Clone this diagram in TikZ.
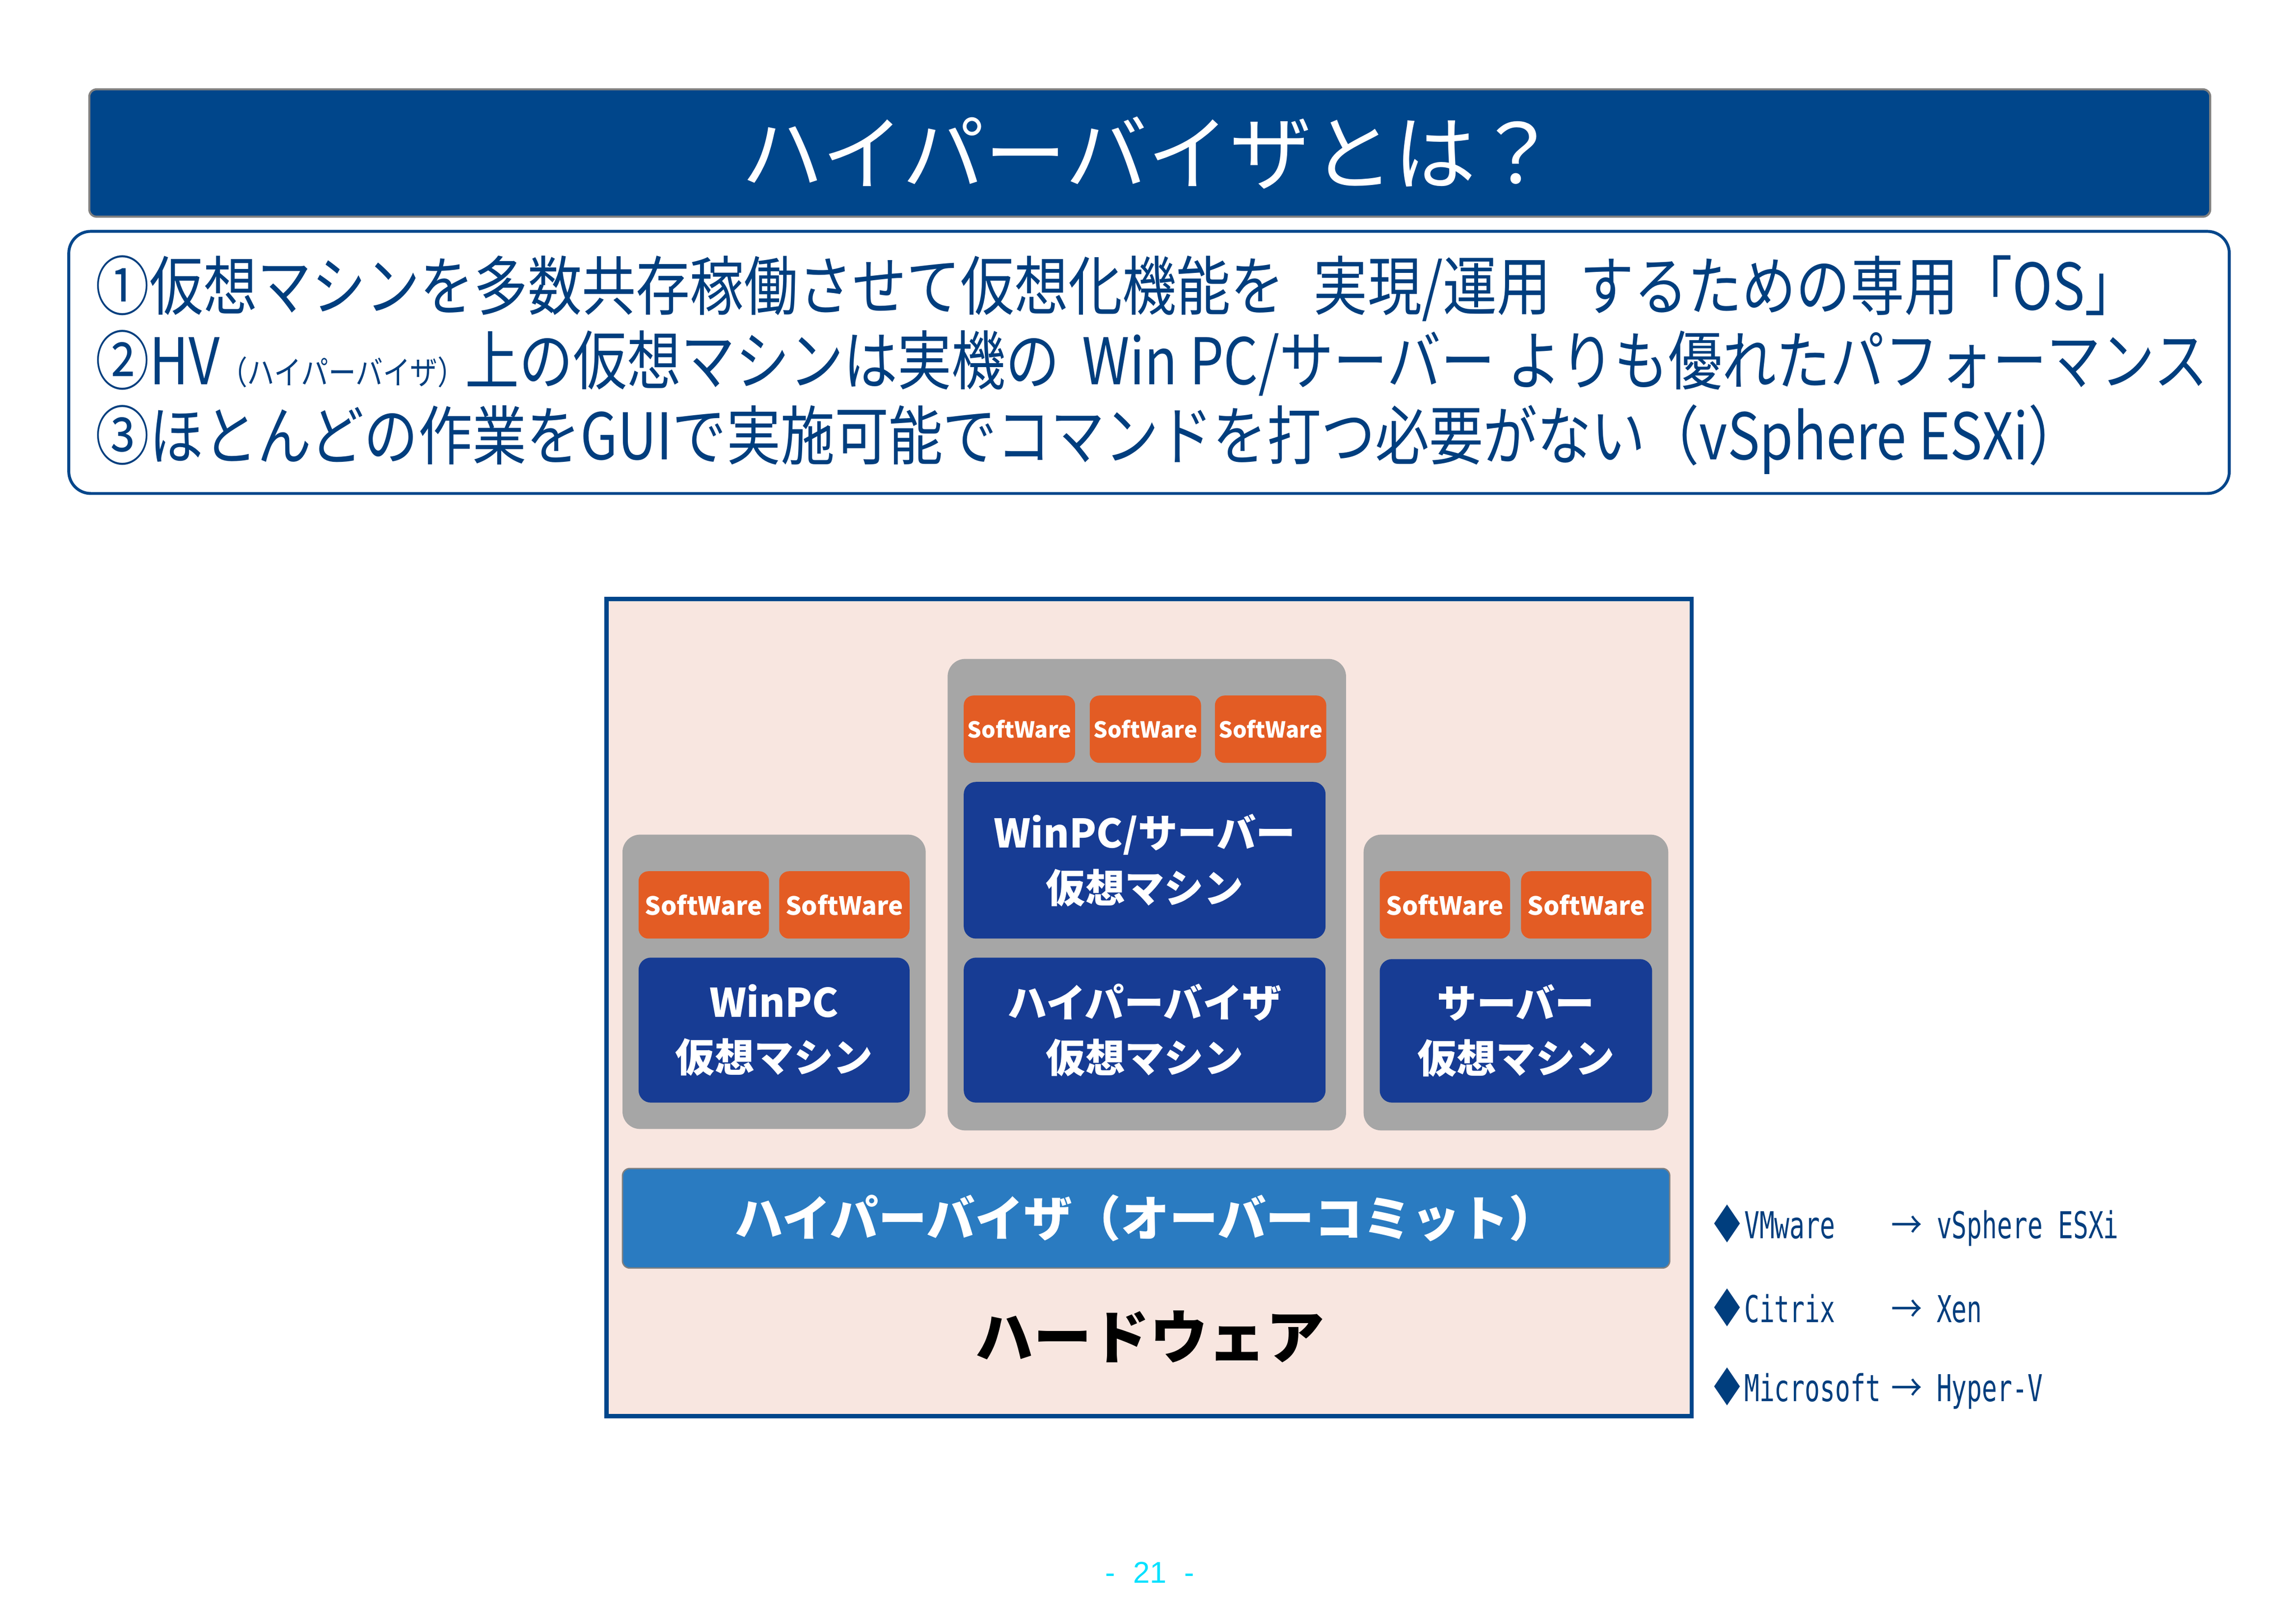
\documentclass[tikz,border=0pt]{standalone}
\usepackage{fontspec}
\setmainfont{Noto Sans CJK JP}
\newfontfamily\jpcond[FakeStretch=0.84]{Noto Sans CJK JP}
\newfontfamily\monocond[FakeStretch=0.68]{DejaVu Sans Mono}
\newfontfamily\pagefont{Liberation Sans}

\definecolor{titleblue}{HTML}{00468B}
\definecolor{txtblue}{HTML}{003E7E}
\definecolor{hwpink}{HTML}{F8E6E0}
\definecolor{grpgray}{HTML}{A6A6A6}
\definecolor{sworange}{HTML}{E35C24}
\definecolor{vmblue}{HTML}{173C94}
\definecolor{hvblue}{HTML}{2A7BC1}
\definecolor{pagecyan}{HTML}{00E1FF}

\tikzset{
  grpbox/.style={fill=grpgray, rounded corners=0.36cm, inner sep=0pt},
  swbox/.style={fill=sworange, rounded corners=0.2cm, inner sep=0pt, minimum height=1.38cm,
    text=white, font=\fontsize{14.6}{16}\selectfont\bfseries},
  swsmall/.style={swbox, font=\fontsize{12.9}{15}\selectfont\bfseries},
  vmbox/.style={fill=vmblue, rounded corners=0.25cm, inner sep=0pt, align=center,
    text=white, font=\fontsize{23}{32}\selectfont\bfseries},
  textline/.style={anchor=west, inner sep=0pt, text=txtblue, font=\jpcond\fontsize{37.5}{40}\selectfont},
  listline/.style={anchor=west, inner sep=0pt, text=txtblue, font=\monocond\fontsize{21.6}{24}\selectfont}
}
\newcommand{\dia}{\makebox[0.62cm][l]{\jpcond\scalebox{0.85}[1.05]{◆}}}

\begin{document}
\begin{tikzpicture}[x=0.03cm, y=-0.03cm]
  \useasboundingbox (0,0) rectangle (1567.6,1108.4);
  \fill[white] (0,0) rectangle (1567.6,1108.4);

  % Titel
  \node[fill=titleblue, draw=gray, line width=1.2pt, rounded corners=0.15cm,
    minimum width=43.44cm, minimum height=2.61cm, text=white,
    font=\fontsize{47.8}{50}\selectfont] (title) at (785,104.5) {ハイパーバイザとは？};

  % Textkasten
  \node[draw=titleblue, line width=1.7pt, rounded corners=0.45cm,
    minimum width=44.25cm, minimum height=5.37cm] (textbox) at (784.5,247.5) {};
  \node[textline] (line1) at (65,197) {①仮想マシンを多数共存稼働させて仮想化機能を\hspace{0.45em}実現/運用\hspace{0.45em}するための専用「OS」};
  \node[textline] (line2) at (65,248) {②HV{\fontsize{19}{20}\selectfont（ハイパーバイザ）}上の仮想マシンは実機の\hspace{0.35em}Win PC/サーバー よりも優れたパフォーマンス};
  \node[textline] (line3) at (65,300) {③ほとんどの作業をGUIで実施可能でコマンドを打つ必要がない（vSphere ESXi）};

  % Hardware-Rahmen
  \node[fill=hwpink, draw=titleblue, line width=2.5pt,
    minimum width=22.23cm, minimum height=16.74cm] (hw) at (784.5,688) {};
  \node[font=\fontsize{33.9}{36}\selectfont\bfseries] (hwlabel) at (785,913) {ハードウェア};

  % Hypervisor
  \node[fill=hvblue, draw=gray, line width=0.8pt, rounded corners=0.15cm,
    minimum width=21.45cm, minimum height=2.04cm, text=white,
    font=\fontsize{28.3}{30}\selectfont\bfseries] (hv) at (782.5,832) {ハイパーバイザ（オーバーコミット）};

  % Gruppen
  \node[grpbox, minimum width=6.21cm, minimum height=6.03cm] (grpL) at (528.5,670.5) {};
  \node[grpbox, minimum width=8.16cm, minimum height=9.66cm] (grpM) at (783,611) {};
  \node[grpbox, minimum width=6.24cm, minimum height=6.06cm] (grpR) at (1035,671) {};

  % SoftWare
  \node[swbox, minimum width=2.67cm] (swL1) at (480.5,618) {SoftWare};
  \node[swbox, minimum width=2.67cm] (swL2) at (576.5,618) {SoftWare};
  \node[swsmall, minimum width=2.28cm] (swM1) at (696,498) {SoftWare};
  \node[swsmall, minimum width=2.28cm] (swM2) at (782,498) {SoftWare};
  \node[swsmall, minimum width=2.28cm] (swM3) at (867.5,498) {SoftWare};
  \node[swbox, minimum width=2.67cm] (swR1) at (986.5,618) {SoftWare};
  \node[swbox, minimum width=2.67cm] (swR2) at (1083,618) {SoftWare};

  % virtuelle Maschinen
  \node[vmbox, minimum width=5.55cm, minimum height=2.97cm] (vmL) at (528.5,703.5) {WinPC\\仮想マシン};
  \node[vmbox, minimum width=7.41cm, minimum height=3.21cm] (vmM1) at (781.5,587.5) {WinPC/サーバー\\仮想マシン};
  \node[vmbox, minimum width=7.41cm, minimum height=2.97cm] (vmM2) at (781.5,703.5) {ハイパーバイザ\\仮想マシン};
  \node[vmbox, minimum width=5.58cm, minimum height=2.94cm] (vmR) at (1035,704) {サーバー\\仮想マシン};

  % Produkte
  \node[listline] (vmware) at (1170,837) {\dia\makebox[3.01cm][l]{VMware}\makebox[0.93cm][l]{\jpcond →}vSphere ESXi};
  \node[listline] (citrix) at (1170,893) {\dia\makebox[3.01cm][l]{Citrix}\makebox[0.93cm][l]{\jpcond →}Xen};
  \node[listline] (msft) at (1170,948) {\dia\makebox[3.01cm][l]{Microsoft}\makebox[0.93cm][l]{\jpcond →}Hyper-V};

  % Seitenzahl
  \node[text=pagecyan, font=\pagefont\fontsize{17.5}{18}\selectfont] (page) at (785,1074) {-\hspace{0.6em}21\hspace{0.6em}-};
\end{tikzpicture}
\end{document}
